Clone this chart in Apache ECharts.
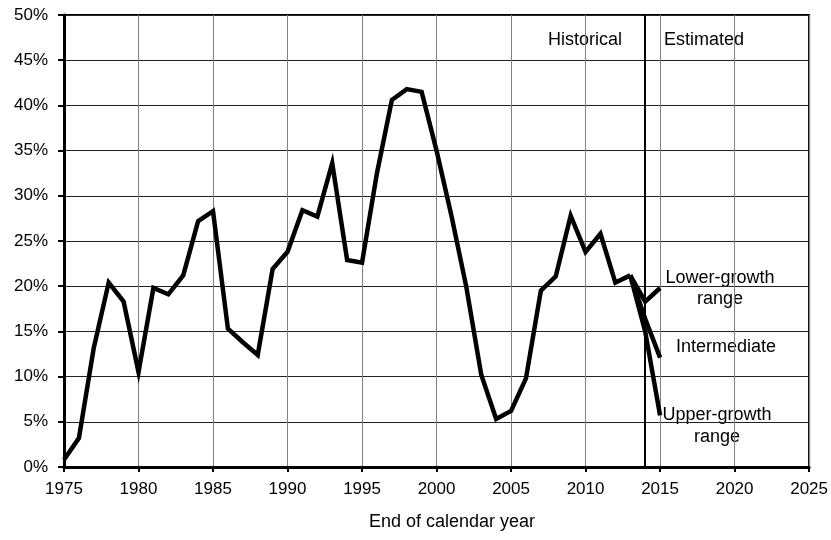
<!DOCTYPE html>
<html>
<head>
<meta charset="utf-8">
<script src="https://cdn.jsdelivr.net/npm/echarts@6/dist/echarts.min.js"></script>
<style>html,body{margin:0;padding:0;background:#fff;}#c{width:831px;height:540px;}</style>
</head>
<body>
<div id="c"></div>
<script>
var histYears = [1975,1976,1977,1978,1979,1980,1981,1982,1983,1984,1985,1986,1987,1988,1989,1990,1991,1992,1993,1994,1995,1996,1997,1998,1999,2000,2001,2002,2003,2004,2005,2006,2007,2008,2009,2010,2011,2012,2013];
var histValues = [0.8,3.2,13.2,20.4,18.3,10.5,19.8,19.1,21.2,27.2,28.3,15.3,13.8,12.4,21.9,23.8,28.4,27.7,33.6,22.9,22.6,32.5,40.6,41.8,41.5,35.0,27.8,19.9,10.2,5.3,6.2,9.8,19.5,21.1,27.8,23.8,25.8,20.4,21.2];
var projYears = [2013,2014,2015];
var lowerValues = [21.2,18.3,19.8];
var interValues = [21.2,16.4,12.1];
var upperValues = [21.2,15.0,5.7];
var divideYear = 2014;

function pairs(xs, ys){ return xs.map(function(x,i){ return [x, ys[i]]; }); }

var FONT = 'Liberation Sans';
var FS = 17;
var chart = echarts.init(document.getElementById('c'));
var lineStyle = {color:'#000', width:4.5, join:'miter'};
function ser(name, data){
  return {name:name, type:'line', data:data, symbol:'none', lineStyle:lineStyle, z:5, animation:false};
}
var series = [
  ser('Historical', pairs(histYears, histValues)),
  ser('Lower-growth range', pairs(projYears, lowerValues)),
  ser('Intermediate', pairs(projYears, interValues)),
  ser('Upper-growth range', pairs(projYears, upperValues))
];
series[0].markLine = {
  silent:true, symbol:'none', animation:false,
  label:{show:false},
  lineStyle:{color:'#000', width:2, type:'solid'},
  data:[{xAxis:divideYear}]
};
var txt = {fontFamily:FONT, fontSize:18, fill:'#000'};
function t(s, x, y){ return {type:'text', style:Object.assign({text:s, x:x, y:y, align:'center', verticalAlign:'middle'}, txt)}; }
chart.setOption({
  animation:false,
  grid:{left:64, right:21, top:15, bottom:73, show:true, borderColor:'#000', borderWidth:2, backgroundColor:'transparent'},
  xAxis:{
    type:'value', min:1975, max:2025, interval:5,
    axisLine:{show:true, onZero:false, lineStyle:{color:'#000', width:3}},
    axisTick:{show:true, length:5, lineStyle:{color:'#000', width:2}},
    axisLabel:{color:'#000', fontFamily:FONT, fontSize:FS, margin:14, formatter:function(v){return String(v);}},
    splitLine:{show:true, lineStyle:{color:'#808080', width:1}}
  },
  yAxis:{
    type:'value', min:0, max:50, interval:5,
    axisLine:{show:true, lineStyle:{color:'#000', width:3}},
    axisTick:{show:true, length:6, lineStyle:{color:'#000', width:2}},
    axisLabel:{color:'#000', fontFamily:FONT, fontSize:FS, margin:16, formatter:'{value}%'},
    splitLine:{show:true, lineStyle:{color:'#222', width:1}}
  },
  graphic:[
    t('End of calendar year', 452, 522),
    t('Historical', 585, 40),
    t('Estimated', 704, 40),
    t('Lower-growth', 720, 278),
    t('range', 720, 299),
    t('Intermediate', 726, 347),
    t('Upper-growth', 717, 415),
    t('range', 717, 437)
  ],
  series:series
});
</script>
</body>
</html>
